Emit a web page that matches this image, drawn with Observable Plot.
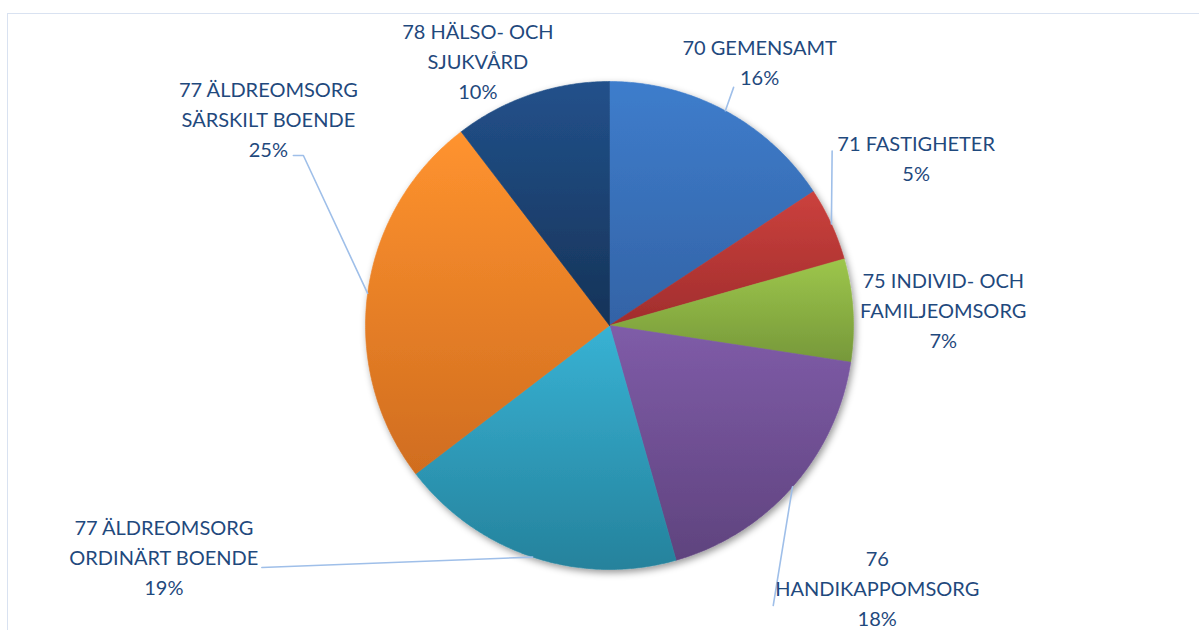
<!DOCTYPE html>
<html><head><meta charset="utf-8">
<script src="https://cdn.jsdelivr.net/npm/d3@7"></script>
<script src="https://cdn.jsdelivr.net/npm/@observablehq/plot@0.6"></script>
<style>
html,body{margin:0;padding:0;background:#fff;overflow:hidden;width:1199px;height:630px;}
#frame{position:absolute;left:7px;top:13px;width:1400px;height:800px;border:1.5px solid #d9e2f1;}
#chart{position:absolute;left:0;top:0;}
</style></head><body>
<div id="frame"></div><div id="chart"></div>
<script>
// ---- data ----
const categories = ["70 GEMENSAMT", "71 FASTIGHETER", "75 INDIVID- OCH FAMILJEOMSORG", "76 HANDIKAPPOMSORG",
  "77 ÄLDREOMSORG ORDINÄRT BOENDE", "77 ÄLDREOMSORG SÄRSKILT BOENDE", "78 HÄLSO- OCH SJUKVÅRD"];
const labelText = ["70 GEMENSAMT", "71 FASTIGHETER", "75 INDIVID- OCH\nFAMILJEOMSORG", "76\nHANDIKAPPOMSORG",
  "77 ÄLDREOMSORG\nORDINÄRT BOENDE", "77 ÄLDREOMSORG\nSÄRSKILT BOENDE", "78 HÄLSO- OCH\nSJUKVÅRD"];
const values = [15.75, 4.85, 6.8, 18.2, 19.0, 25.0, 10.4];
const colorTop = ["#3e7dcc", "#cb413d", "#9dc64b", "#7f5ca8", "#38b2d4", "#ff932f", "#22518b"];
const colorBottom = ["#3363a6", "#a12d2d", "#76983a", "#5f437e", "#25829c", "#d06d1f", "#163358"];
// label placement (polar: degrees clockwise from top, distance in pie radii) and leader anchors (px offsets from label centre)
const labelAngle = [29.8, 61.5, 87.6, 134.6, 242.4, 301.0, 333.4];
const labelDist = [1.238, 1.430, 1.369, 1.541, 2.061, 1.631, 1.205];
const leaderDX = [-26, -84, null, -104, 98, 25, null];
const leaderDY = [24, -8, null, 16, 9, 35, null];
const leaderElbow = [0, 0, 0, 0, 0, 10, 0];

// ---- layout ----
const W = 1199, H = 630, CX = 609, CY = 325, R = 244;
const total = d3.sum(values);
const rad = d => d * Math.PI / 180;
const pol = (deg, r) => [r * Math.sin(rad(deg)), r * Math.cos(rad(deg))];
let acc = 0;
const slices = values.map((v, i) => {
  const a0 = acc / total * 360; acc += v; const a1 = acc / total * 360;
  return {i, a0, a1, mid: (a0 + a1) / 2, pct: Math.round(v / total * 100)};
});
const slicePts = slices.flatMap(s => {
  const pts = [{k: s.i, g: `url(#g${s.i})`, x: 0, y: 0}];
  const n = Math.max(2, Math.ceil((s.a1 - s.a0) / 0.5));
  for (let j = 0; j <= n; j++) {
    const [x, y] = pol(s.a0 + (s.a1 - s.a0) * j / n, 1);
    pts.push({k: s.i, g: `url(#g${s.i})`, x, y});
  }
  pts.push({k: s.i, g: `url(#g${s.i})`, x: 0, y: 0});
  return pts;
});
const labels = slices.map(s => {
  const [x, y] = pol(labelAngle[s.i], labelDist[s.i]);
  return {x, y, text: `${labelText[s.i]}\n${s.pct}%`};
});
const leaderPts = slices.flatMap(s => {
  if (leaderDX[s.i] == null) return [];
  const [ex, ey] = pol(s.mid, 1.0);
  const lx = labels[s.i].x + leaderDX[s.i] / R, ly = labels[s.i].y - leaderDY[s.i] / R;
  const pts = [{k: s.i, x: ex, y: ey}];
  if (leaderElbow[s.i]) pts.push({k: s.i, x: lx + leaderElbow[s.i] / R, y: ly});
  pts.push({k: s.i, x: lx, y: ly});
  return pts;
});

const chart = Plot.plot({
  width: W, height: H, margin: 0,
  x: {domain: [-CX / R, (W - CX) / R], axis: null},
  y: {domain: [-(H - CY) / R, CY / R], axis: null},
  color: {type: "identity"},
  style: {background: "transparent", fontFamily: "Lato", overflow: "visible"},
  marks: [
    Plot.line(slicePts, {x: "x", y: "y", z: "k", fill: "g", stroke: "g", strokeWidth: 0.6, curve: "linear"}),
    Plot.line(leaderPts, {x: "x", y: "y", z: "k", stroke: "#9fbfe9", strokeWidth: 1.6, curve: "linear"}),
    Plot.text(labels, {x: "x", y: "y", dy: -3, text: "text", fill: "#1f497d", fontSize: 20, lineHeight: 1.5})
  ]
});

const svg = d3.select(chart);
const defs = svg.insert("defs", ":first-child");
colorTop.forEach((c, i) => {
  const lg = defs.append("linearGradient").attr("id", `g${i}`).attr("x1", 0).attr("y1", 0).attr("x2", 0).attr("y2", 1);
  lg.append("stop").attr("offset", "0%").attr("stop-color", c);
  lg.append("stop").attr("offset", "100%").attr("stop-color", colorBottom[i]);
});
const f = defs.append("filter").attr("id", "shadow").attr("x", "-10%").attr("y", "-10%").attr("width", "130%").attr("height", "130%");
f.append("feDropShadow").attr("dx", 2).attr("dy", 3).attr("stdDeviation", 3.5).attr("flood-color", "#000").attr("flood-opacity", 0.4);
const lineGroups = svg.selectAll('g[aria-label="line"]').nodes();
if (lineGroups.length) d3.select(lineGroups[0]).attr("filter", "url(#shadow)");
document.getElementById("chart").appendChild(chart);
</script>
</body></html>
